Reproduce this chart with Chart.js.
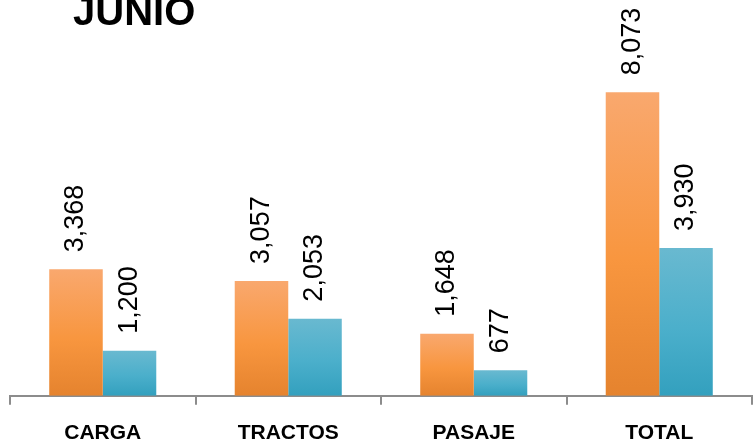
<!DOCTYPE html>
<html>
<head>
<meta charset="utf-8">
<script src="https://cdn.jsdelivr.net/npm/chart.js@4.4.1/dist/chart.umd.min.js"></script>
<style>
  html, body { margin: 0; padding: 0; background: #fff; overflow: hidden; }
  #wrap { position: relative; width: 754px; height: 443px; }
  #title {
    position: absolute; left: 73px; top: -9px;
    font: bold 40px "Liberation Sans", Arial, sans-serif; line-height: 40px;
    color: #000;
  }
</style>
</head>
<body>
<div id="wrap">
  <canvas id="chart" width="754" height="443"></canvas>
  <div id="title">JUNIO</div>
</div>
<script>
const categories = ['CARGA', 'TRACTOS', 'PASAJE', 'TOTAL'];
const orangeValues = [3368, 3057, 1648, 8073];
const blueValues = [1200, 2053, 677, 3930];

const orangeStops = ['#F9A86E', '#F8963F', '#E5832E'];
const blueStops = ['#69B9D0', '#4BAFCB', '#33A0BE'];

function barGradient(stops) {
    return ctx => {
        const chart = ctx.chart;
        if (!chart.chartArea || ctx.raw === undefined) return stops[1];
        const y = chart.scales.y;
        const top = y.getPixelForValue(ctx.raw);
        const bot = y.getPixelForValue(0);
        const g = chart.ctx.createLinearGradient(0, top, 0, bot);
        g.addColorStop(0, stops[0]);
        g.addColorStop(0.55, stops[1]);
        g.addColorStop(1, stops[2]);
        return g;
    };
}

// rotated value labels above each bar
const valueLabels = {
    id: 'valueLabels',
    afterDatasetsDraw(chart) {
        const ctx = chart.ctx;
        ctx.save();
        ctx.font = '27px "Liberation Sans", Arial, sans-serif';
        ctx.fillStyle = '#000';
        ctx.textAlign = 'left';
        ctx.textBaseline = 'middle';
        chart.data.datasets.forEach((ds, i) => {
            chart.getDatasetMeta(i).data.forEach((bar, j) => {
                ctx.save();
                ctx.translate(bar.x, bar.y - 17);
                ctx.rotate(-Math.PI / 2);
                ctx.fillText(ds.data[j].toLocaleString('en-US'), 0, 0);
                ctx.restore();
            });
        });
        ctx.restore();
    }
};

new Chart(document.getElementById('chart').getContext('2d'), {
    type: 'bar',
    data: {
        labels: categories,
        datasets: [
            { data: orangeValues, backgroundColor: barGradient(orangeStops) },
            { data: blueValues, backgroundColor: barGradient(blueStops) }
        ]
    },
    options: {
        responsive: false,
        animation: false,
        datasets: { bar: { categoryPercentage: 0.577, barPercentage: 1 } },
        layout: { padding: { left: 10, right: 2, top: 0, bottom: -19 } },
        plugins: { legend: { display: false }, tooltip: { enabled: false } },
        scales: {
            x: {
                offset: true,
                grid: { offset: true, drawOnChartArea: false, color: '#8c8c8c', lineWidth: 2, tickLength: 9 },
                border: { color: '#8c8c8c', width: 2 },
                ticks: {
                    color: '#000', padding: 16,
                    font: { family: '"Liberation Sans", Arial, sans-serif', size: 21, weight: 'bold' }
                }
            },
            y: { display: false, min: 0, max: 10530 }
        }
    },
    plugins: [valueLabels]
});
</script>
</body>
</html>
